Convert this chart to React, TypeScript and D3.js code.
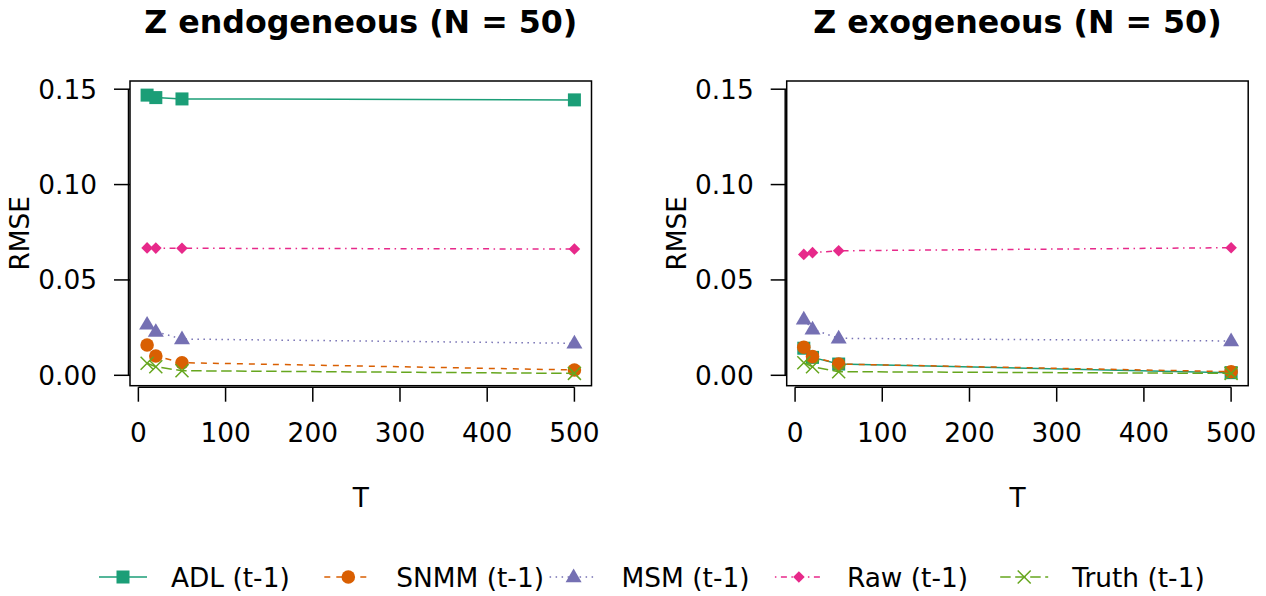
import { useEffect, useRef } from "react";
import * as d3 from "d3";

// T values on the x axis
const tValues = [10, 20, 50, 500];

// RMSE per method, Z endogeneous panel
const endoADL = [0.1469, 0.1456, 0.1449, 0.1444];
const endoSNMM = [0.0159, 0.0101, 0.0066, 0.0028];
const endoMSM = [0.0267, 0.0229, 0.019, 0.0168];
const endoRaw = [0.0668, 0.0667, 0.0666, 0.0662];
const endoTruth = [0.0063, 0.0045, 0.0024, 0.001];

// RMSE per method, Z exogeneous panel
const exoADL = [0.0142, 0.0094, 0.0059, 0.0014];
const exoSNMM = [0.0147, 0.0098, 0.0059, 0.0019];
const exoMSM = [0.0294, 0.0241, 0.0194, 0.018];
const exoRaw = [0.0634, 0.0643, 0.0653, 0.0669];
const exoTruth = [0.0066, 0.0045, 0.0019, 0.001];

const seriesNames = ["ADL (t-1)", "SNMM (t-1)", "MSM (t-1)", "Raw (t-1)", "Truth (t-1)"];
const seriesColors = ["#1B9E77", "#D95F02", "#7570B3", "#E7298A", "#66A61E"];
const seriesDash = ["", "6,6", "1.5,4.5", "1.5,4.5,6,4.5", "10.5,4.5"];
const seriesShape = ["square", "circle", "triangle", "diamond", "cross"];

const xTicks = [0, 100, 200, 300, 400, 500];
const yTicks = [0, 0.05, 0.1, 0.15];

const panels = [
  { title: "Z endogeneous (N = 50)", left: 130, series: [endoADL, endoSNMM, endoMSM, endoRaw, endoTruth] },
  { title: "Z exogeneous (N = 50)", left: 786.7, series: [exoADL, exoSNMM, exoMSM, exoRaw, exoTruth] },
];

const W = 1266;
const H = 596;
const font = "DejaVu Sans, sans-serif";
const fs = 26.4;

function drawMarker(g: any, shape: string, cx: number, cy: number, color: string) {
  if (shape === "square") {
    g.append("rect").attr("x", cx - 6.5).attr("y", cy - 6.5).attr("width", 13).attr("height", 13).attr("fill", color);
  } else if (shape === "circle") {
    g.append("circle").attr("cx", cx).attr("cy", cy).attr("r", 6.8).attr("fill", color);
  } else if (shape === "triangle") {
    g.append("path").attr("d", `M${cx},${cy - 8.5}L${cx + 8},${cy + 5.2}L${cx - 8},${cy + 5.2}Z`).attr("fill", color);
  } else if (shape === "diamond") {
    g.append("path").attr("d", `M${cx},${cy - 5.8}L${cx + 5.8},${cy}L${cx},${cy + 5.8}L${cx - 5.8},${cy}Z`).attr("fill", color);
  } else {
    g.append("path")
      .attr("d", `M${cx - 6.5},${cy - 6.5}L${cx + 6.5},${cy + 6.5}M${cx - 6.5},${cy + 6.5}L${cx + 6.5},${cy - 6.5}`)
      .attr("stroke", color).attr("stroke-width", 1.5).attr("fill", "none");
  }
}

export default function App() {
  const ref = useRef<SVGSVGElement>(null);

  useEffect(() => {
    const svg = d3.select(ref.current);
    svg.selectAll("*").remove();
    svg.append("rect").attr("width", W).attr("height", H).attr("fill", "white");

    const top = 81;
    const bottom = 385.7;
    const boxW = 461.5;

    const y = d3.scaleLinear().domain([-0.00545, 0.1543]).range([bottom, top]);

    panels.forEach((p) => {
      const x = d3.scaleLinear().domain([-9.6, 519.6]).range([p.left, p.left + boxW]);
      const g = svg.append("g");

      // series lines then markers
      p.series.forEach((vals, i) => {
        const pts = tValues.map((t, j) => [x(t), y(vals[j])] as [number, number]);
        g.append("path")
          .attr("d", d3.line()(pts))
          .attr("fill", "none")
          .attr("stroke", seriesColors[i])
          .attr("stroke-width", 1.5)
          .attr("stroke-dasharray", seriesDash[i] || null);
        pts.forEach(([cx, cy]) => drawMarker(g, seriesShape[i], cx, cy, seriesColors[i]));
      });

      // box
      g.append("rect")
        .attr("x", p.left).attr("y", top).attr("width", boxW).attr("height", bottom - top)
        .attr("fill", "none").attr("stroke", "black").attr("stroke-width", 1.5);

      // x axis
      const xa = g.append("g").attr("transform", `translate(0,${bottom})`);
      xa.append("line").attr("x1", x(0)).attr("x2", x(500)).attr("y1", 1.5).attr("y2", 1.5).attr("stroke", "black").attr("stroke-width", 1.5);
      xTicks.forEach((t) => {
        xa.append("line").attr("x1", x(t)).attr("x2", x(t)).attr("y1", 1.5).attr("y2", 16).attr("stroke", "black").attr("stroke-width", 1.5);
        xa.append("text").attr("x", x(t)).attr("y", 56.3).attr("text-anchor", "middle")
          .attr("font-family", font).attr("font-size", fs).text(d3.format("d")(t));
      });

      // y axis
      const ya = g.append("g").attr("transform", `translate(${p.left},0)`);
      ya.append("line").attr("x1", -1.5).attr("x2", -1.5).attr("y1", y(0)).attr("y2", y(0.15)).attr("stroke", "black").attr("stroke-width", 1.5);
      yTicks.forEach((t) => {
        ya.append("line").attr("x1", -16).attr("x2", 0).attr("y1", y(t)).attr("y2", y(t)).attr("stroke", "black").attr("stroke-width", 1.5);
        ya.append("text").attr("x", -33).attr("y", y(t)).attr("dy", "0.36em").attr("text-anchor", "end")
          .attr("font-family", font).attr("font-size", fs).text(d3.format(".2f")(t));
      });

      // titles
      const cx = p.left + boxW / 2;
      g.append("text").attr("x", cx).attr("y", 32.5).attr("text-anchor", "middle")
        .attr("font-family", font).attr("font-weight", "bold").attr("font-size", 31.7).text(p.title);
      g.append("text").attr("x", cx).attr("y", 507).attr("text-anchor", "middle")
        .attr("font-family", font).attr("font-size", fs).text("T");
      g.append("text").attr("transform", `translate(${p.left - 101},${(top + bottom) / 2}) rotate(-90)`)
        .attr("text-anchor", "middle").attr("font-family", font).attr("font-size", fs).text("RMSE");
    });

    // legend (horizontal, equal item spacing)
    const legY = 577;
    const lg = svg.append("g");
    seriesNames.forEach((name, i) => {
      const x0 = 99 + 225.3 * i;
      lg.append("line").attr("x1", x0).attr("x2", x0 + 48).attr("y1", legY).attr("y2", legY)
        .attr("stroke", seriesColors[i]).attr("stroke-width", 1.5).attr("stroke-dasharray", seriesDash[i] || null);
      drawMarker(lg, seriesShape[i], x0 + 24, legY, seriesColors[i]);
      lg.append("text").attr("x", x0 + 72).attr("y", legY).attr("dy", "0.36em")
        .attr("font-family", font).attr("font-size", fs).text(name);
    });
  }, []);

  return <svg ref={ref} width={W} height={H} style={{ display: "block", position: "absolute", left: 0, top: 0 }} />;
}
